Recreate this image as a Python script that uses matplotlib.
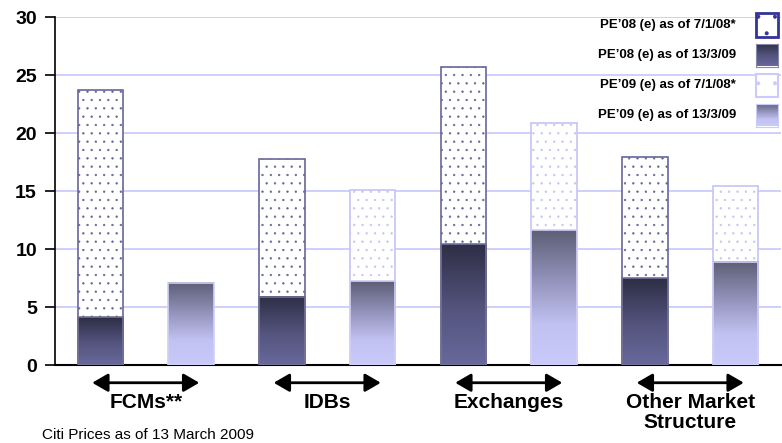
import numpy as np
import matplotlib
matplotlib.use("Agg")
import matplotlib.pyplot as plt
from matplotlib.patches import Rectangle
from matplotlib.colors import LinearSegmentedColormap

plt.rcParams['font.family'] = ['Liberation Sans', 'DejaVu Sans']
plt.rcParams['hatch.linewidth'] = 0.45

# P/E estimates by market segment
segments = ["FCMs**", "IDBs", "Exchanges", "Other Market\nStructure"]
pe08_jan08 = [23.7, 17.8, 25.7, 17.9]
pe08_mar09 = [4.1, 5.9, 10.4, 7.5]
pe09_jan08 = [None, 15.1, 20.9, 15.4]
pe09_mar09 = [7.1, 7.2, 11.6, 8.9]
series_labels = ["PE’08 (e) as of 7/1/08*", "PE’08 (e) as of 13/3/09",
                 "PE’09 (e) as of 7/1/08*", "PE’09 (e) as of 13/3/09"]
yticks = [0, 5, 10, 15, 20, 25, 30]
source_note = "Citi Prices as of 13 March 2009"

W, H = 782, 443
fig = plt.figure(figsize=(W / 100, H / 100), dpi=100)
ax = fig.add_axes([55 / W, (H - 365) / H, 726 / W, 348 / H])

cmap08 = LinearSegmentedColormap.from_list(
    "g08", [(0.0, "#68689c"), (0.45, "#55557f"), (1.0, "#2e2e46")])
cmap09 = LinearSegmentedColormap.from_list(
    "g09", [(0.0, "#cacafa"), (0.3, "#c2c2f2"), (0.65, "#9090b8"), (1.0, "#5e5e76")])
grad = np.linspace(0, 1, 256).reshape(-1, 1)

bw = 0.5
n = len(segments)
x08 = np.arange(n) * 2
x09 = x08 + 1


def gradient_bar(x, h, cmap, edge):
    ax.imshow(grad, extent=[x - bw / 2, x + bw / 2, 0, h], origin="lower",
              aspect="auto", cmap=cmap, zorder=3, interpolation="bilinear")
    ax.bar(x, h, bw, fill=False, edgecolor=edge, linewidth=1.2, zorder=4)


for i in range(n):
    ax.bar(x08[i], pe08_jan08[i], bw, facecolor="white", edgecolor="#66669a",
           hatch="..", linewidth=1.2, zorder=2)
    if pe09_jan08[i] is not None:
        ax.bar(x09[i], pe09_jan08[i], bw, facecolor="white", edgecolor="#c4c4f6",
               hatch="..", linewidth=1.2, zorder=2)
    gradient_bar(x08[i], pe08_mar09[i], cmap08, "#727299")
    gradient_bar(x09[i], pe09_mar09[i], cmap09, "#d0d0fa")

ax.set_xlim(-0.5, 2 * n - 0.5)
ax.set_ylim(0, 30)
ax.set_yticks(yticks)
ax.set_yticklabels([str(t) for t in yticks], fontsize=14, fontweight="bold")
ax.set_xticks([])
ax.yaxis.grid(True, color="#ccccff", linewidth=1.3)
ax.set_axisbelow(True)
for s in ["top", "right"]:
    ax.spines[s].set_visible(False)
ax.spines["left"].set_linewidth(1.2)
ax.spines["bottom"].set_linewidth(1.5)
ax.tick_params(axis="y", length=7, width=1.2, pad=6, direction="out")

# segment arrows and names below the axis
for i, name in enumerate(segments):
    c = (x08[i] + x09[i]) / 2
    ax.annotate("", xy=(c + 0.59, -1.53), xytext=(c - 0.59, -1.53),
                arrowprops=dict(arrowstyle="<|-|>,head_length=0.95,head_width=0.55",
                                color="black", lw=2, shrinkA=0, shrinkB=0),
                annotation_clip=False)
    ax.text(c, -2.4, name, ha="center", va="top", fontsize=15,
            fontweight="bold", linespacing=1.05, clip_on=False)

# legend
def fx(px):
    return px / W


def fy(py):
    return (H - py) / H


rows_y = [25, 55, 85, 115]
for k, lab in enumerate(series_labels):
    fig.text(fx(736), fy(rows_y[k]), lab, ha="right", va="center",
             fontsize=9.5, fontweight="bold")

sw, sh = 22, 23
sx = 756
fig.add_artist(Rectangle((fx(sx), fy(rows_y[0] + sh / 2)), sw / W, sh / H,
                         transform=fig.transFigure, facecolor="white",
                         edgecolor="#33339a", linewidth=2, hatch="."))
fig.add_artist(Rectangle((fx(sx), fy(rows_y[2] + sh / 2)), sw / W, sh / H,
                         transform=fig.transFigure, facecolor="white",
                         edgecolor="#ccccfa", linewidth=1.5, hatch="."))
for k, cm in [(1, cmap08), (3, cmap09)]:
    sa = fig.add_axes([fx(sx), fy(rows_y[k] + sh / 2), sw / W, sh / H])
    sa.imshow(grad, origin="lower", aspect="auto", cmap=cm, interpolation="bilinear")
    sa.set_xticks([])
    sa.set_yticks([])
    for s in sa.spines.values():
        s.set_color("#8888aa" if k == 1 else "#ccccfa")

fig.text(fx(42), fy(442), source_note, ha="left", va="bottom", fontsize=11)

fig.savefig("out.png", dpi=100)
